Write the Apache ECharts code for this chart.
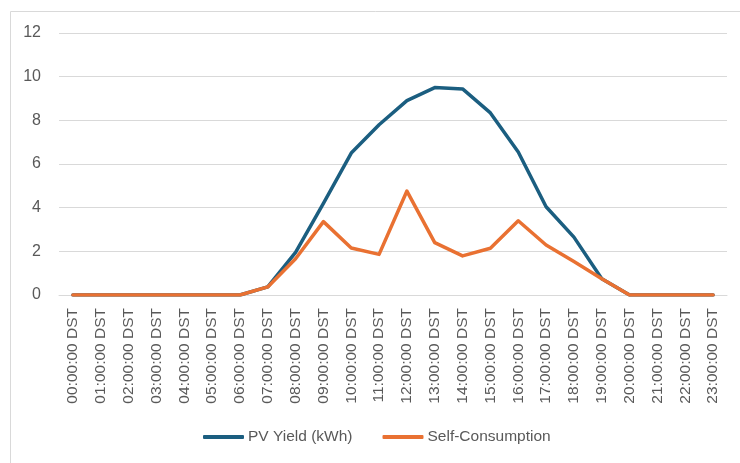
<!DOCTYPE html>
<html><head><meta charset="utf-8">
<script src="https://cdn.jsdelivr.net/npm/echarts@6/dist/echarts.min.js"></script>
<style>html,body{margin:0;padding:0;background:#fff;}#c{width:740px;height:463px;}</style>
</head><body><div id="c"></div>
<script>
const categories = ["00:00:00 DST","01:00:00 DST","02:00:00 DST","03:00:00 DST","04:00:00 DST","05:00:00 DST","06:00:00 DST","07:00:00 DST","08:00:00 DST","09:00:00 DST","10:00:00 DST","11:00:00 DST","12:00:00 DST","13:00:00 DST","14:00:00 DST","15:00:00 DST","16:00:00 DST","17:00:00 DST","18:00:00 DST","19:00:00 DST","20:00:00 DST","21:00:00 DST","22:00:00 DST","23:00:00 DST"];
const pvYield = [0,0,0,0,0,0,0,0.37,1.95,4.2,6.5,7.8,8.9,9.5,9.44,8.34,6.55,4.04,2.65,0.74,0,0,0,0];
const selfConsumption = [0,0,0,0,0,0,0,0.37,1.66,3.36,2.15,1.86,4.76,2.4,1.79,2.14,3.4,2.29,1.53,0.74,0,0,0,0];
const seriesNames = ["PV Yield (kWh)","Self-Consumption"];

const chart = echarts.init(document.getElementById('c'), null, {renderer:'canvas'});
chart.setOption({
  animation:false,
  color:['#1B5E80','#E97132'],
  graphic:[{type:'rect',shape:{x:10.5,y:11.5,width:740,height:460},style:{fill:'none',stroke:'#D9D9D9',lineWidth:1},z:-1}],
  grid:{left:59,right:13,top:33,bottom:168,containLabel:false},
  legend:{top:424,left:198,itemWidth:41,itemHeight:4,itemGap:30,icon:'roundRect',
    textStyle:{fontFamily:'Liberation Sans, sans-serif',fontSize:15.5,color:'#595959',padding:[0,0,0,-1]},
    data:seriesNames},
  xAxis:{type:'category',data:categories,boundaryGap:true,
    axisLine:{lineStyle:{color:'#D9D9D9',width:1}},axisTick:{show:false},
    axisLabel:{rotate:90,interval:0,color:'#595959',fontSize:15.5,fontFamily:'Liberation Sans, sans-serif',margin:13}},
  yAxis:{type:'value',min:0,max:12,interval:2,
    axisLine:{show:false},axisTick:{show:false},
    splitLine:{lineStyle:{color:'#D9D9D9',width:1}},
    axisLabel:{color:'#595959',fontSize:16,fontFamily:'Liberation Sans, sans-serif',margin:18}},
  series:[
    {name:seriesNames[0],type:'line',data:pvYield,symbol:'none',lineStyle:{width:3.5,color:'#1B5E80',cap:'round',join:'round'}},
    {name:seriesNames[1],type:'line',data:selfConsumption,symbol:'none',lineStyle:{width:3.5,color:'#E97132',cap:'round',join:'round'}}
  ]
});
</script></body></html>
